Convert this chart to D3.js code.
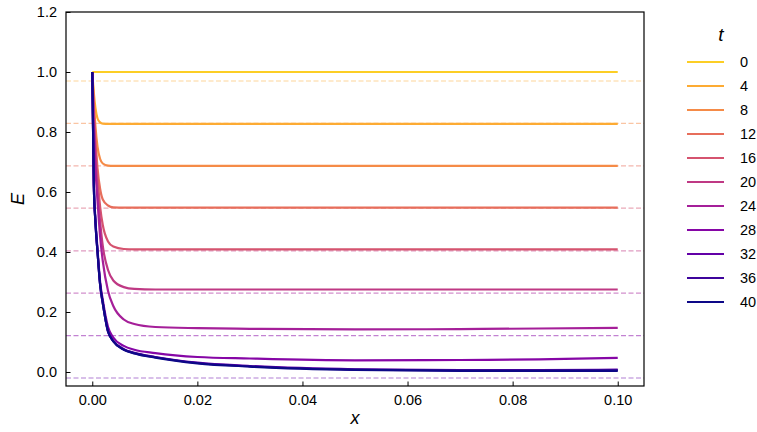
<!DOCTYPE html>
<html>
<head>
<meta charset="utf-8">
<script src="https://cdn.jsdelivr.net/npm/d3@7"></script>
<style>
  body { margin: 0; background: #fff; }
  svg text { font-family: "Liberation Sans", Arial, sans-serif; }
</style>
</head>
<body>
<svg id="chart" width="757" height="432"></svg>
<script>
// t values shown in the legend
const tValues = [0, 4, 8, 12, 16, 20, 24, 28, 32, 36, 40];

// sample positions along x
const xs = [0, 0.0003, 0.0006, 0.001, 0.0015, 0.002, 0.003, 0.004, 0.006, 0.008, 0.012, 0.02, 0.03, 0.05, 0.07, 0.085, 0.1];

// E values for each t, at the positions above
const e0  = [1, 1, 1, 1, 1, 1, 1, 1, 1, 1, 1, 1, 1, 1, 1, 1, 1];
const e4  = [1, 0.93, 0.88, 0.845, 0.832, 0.828, 0.827, 0.827, 0.827, 0.827, 0.827, 0.827, 0.827, 0.827, 0.827, 0.827, 0.827];
const e8  = [1, 0.9, 0.82, 0.75, 0.71, 0.695, 0.688, 0.687, 0.687, 0.687, 0.687, 0.687, 0.687, 0.687, 0.687, 0.687, 0.687];
const e12 = [1, 0.88, 0.78, 0.68, 0.61, 0.575, 0.555, 0.549, 0.548, 0.548, 0.548, 0.548, 0.548, 0.548, 0.548, 0.548, 0.548];
const e16 = [1, 0.86, 0.75, 0.65, 0.55, 0.49, 0.435, 0.418, 0.41, 0.409, 0.409, 0.409, 0.409, 0.409, 0.409, 0.409, 0.409];
const e20 = [1, 0.84, 0.72, 0.6, 0.5, 0.42, 0.34, 0.305, 0.283, 0.277, 0.275, 0.275, 0.275, 0.275, 0.275, 0.275, 0.275];
const e24 = [1, 0.8, 0.68, 0.57, 0.45, 0.37, 0.27, 0.22, 0.175, 0.16, 0.15, 0.146, 0.144, 0.142, 0.143, 0.145, 0.147];
const e28 = [1, 0.63, 0.51, 0.41, 0.3, 0.24, 0.15, 0.115, 0.087, 0.074, 0.063, 0.05, 0.045, 0.039, 0.04, 0.042, 0.047];
const e32 = [1, 0.62, 0.5, 0.4, 0.29, 0.23, 0.135, 0.104, 0.076, 0.064, 0.05, 0.031, 0.02, 0.009, 0.006, 0.006, 0.008];
const e36 = [1, 0.62, 0.5, 0.4, 0.29, 0.23, 0.135, 0.103, 0.075, 0.063, 0.049, 0.03, 0.019, 0.008, 0.005, 0.005, 0.006];
const e40 = [1, 0.62, 0.5, 0.4, 0.29, 0.23, 0.135, 0.102, 0.074, 0.062, 0.048, 0.029, 0.018, 0.007, 0.004, 0.004, 0.004];
const series = [e0, e4, e8, e12, e16, e20, e24, e28, e32, e36, e40];

// dashed reference levels
const refLevels = [0.97, 0.829, 0.687, 0.546, 0.404, 0.263, 0.121, -0.02];

const xTicks = [0, 0.02, 0.04, 0.06, 0.08, 0.1];
const yTicks = [0, 0.2, 0.4, 0.6, 0.8, 1.0, 1.2];

const svg = d3.select('#chart');
const m = { left: 66, right: 644, top: 12, bottom: 386 };

const x = d3.scaleLinear().domain([-0.005, 0.105]).range([m.left, m.right]);
const y = d3.scaleLinear().domain([-0.0467, 1.2]).range([m.bottom, m.top]);

// plasma colours, yellow for t=0 down to dark blue for t=40
const colorAt = i => d3.interpolatePlasma(0.9 - 0.9 * i / (tValues.length - 1));

// clip to plot area
svg.append('defs').append('clipPath').attr('id', 'clip')
    .append('rect').attr('x', m.left).attr('y', m.top)
    .attr('width', m.right - m.left).attr('height', m.bottom - m.top);

const plot = svg.append('g').attr('clip-path', 'url(#clip)');

// dashed levels
plot.selectAll('.ref')
    .data(refLevels)
    .enter()
    .append('line')
    .attr('class', 'ref')
    .attr('x1', m.left).attr('x2', m.right)
    .attr('y1', d => y(d)).attr('y2', d => y(d))
    .attr('stroke', (d, i) => colorAt(i + 1))
    .attr('stroke-opacity', 0.5)
    .attr('stroke-width', 1.2)
    .attr('stroke-dasharray', '5,2.5');

const line = d3.line()
    .x((d, i) => x(xs[i]))
    .y(d => y(d))
    .curve(d3.curveMonotoneX);

plot.selectAll('.curve')
    .data(series)
    .enter()
    .append('path')
    .attr('class', 'curve')
    .attr('d', d => line(d))
    .attr('fill', 'none')
    .attr('stroke', (d, i) => colorAt(i))
    .attr('stroke-width', 2.2);

// axes, ticks pointing inwards
const xAxis = svg.append('g')
    .attr('transform', `translate(0,${m.bottom})`)
    .call(d3.axisBottom(x).tickValues(xTicks).tickFormat(d3.format('.2f')).tickSizeInner(-4.5).tickSizeOuter(0).tickPadding(9));
const yAxis = svg.append('g')
    .attr('transform', `translate(${m.left},0)`)
    .call(d3.axisLeft(y).tickValues(yTicks).tickFormat(d3.format('.1f')).tickSizeInner(-4.5).tickSizeOuter(0).tickPadding(9));

[xAxis, yAxis].forEach(a => {
    a.select('.domain').remove();
    a.selectAll('.tick line').attr('stroke', '#000').attr('stroke-width', 1);
    a.selectAll('.tick text').attr('font-size', 14.5).attr('fill', '#000');
});

// frame
svg.append('rect')
    .attr('x', m.left).attr('y', m.top)
    .attr('width', m.right - m.left).attr('height', m.bottom - m.top)
    .attr('fill', 'none').attr('stroke', '#000').attr('stroke-width', 1.2);

// axis labels
svg.append('text')
    .attr('x', (m.left + m.right) / 2).attr('y', 424)
    .attr('text-anchor', 'middle')
    .attr('font-size', 18).attr('font-style', 'italic')
    .text('x');
svg.append('text')
    .attr('transform', `translate(24,${(m.top + m.bottom) / 2}) rotate(-90)`)
    .attr('text-anchor', 'middle')
    .attr('font-size', 18).attr('font-style', 'italic')
    .text('E');

// legend
const legend = svg.append('g');
legend.append('text')
    .attr('x', 721).attr('y', 41)
    .attr('text-anchor', 'middle')
    .attr('font-size', 19).attr('font-style', 'italic')
    .text('t');

const items = legend.selectAll('.item')
    .data(tValues)
    .enter()
    .append('g')
    .attr('class', 'item')
    .attr('transform', (d, i) => `translate(0,${62 + i * 24})`);
items.append('line')
    .attr('x1', 687).attr('x2', 724)
    .attr('stroke', (d, i) => colorAt(i))
    .attr('stroke-width', 2.2);
items.append('text')
    .attr('x', 740).attr('y', 5)
    .attr('font-size', 14.5)
    .text(d => d);
</script>
</body>
</html>
